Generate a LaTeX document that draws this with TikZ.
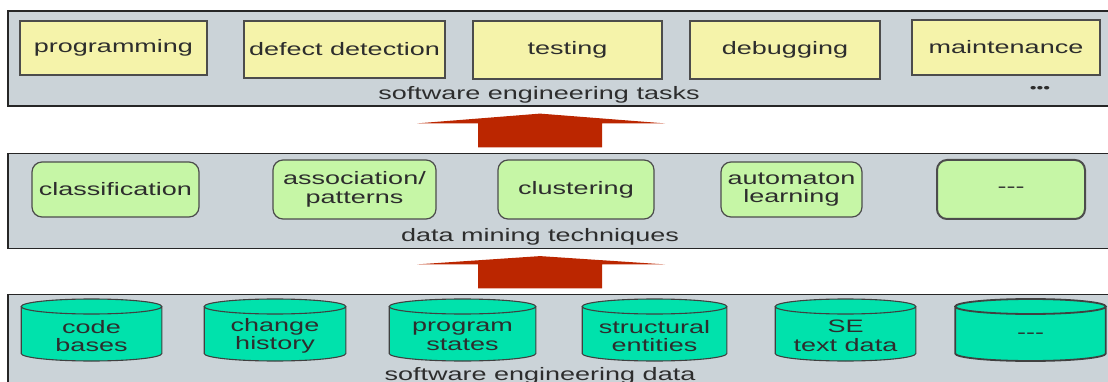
\documentclass[tikz,border=0pt]{standalone}
\usepackage{fontspec}
\setmainfont{Liberation Sans}[FakeStretch=1.5]
\usetikzlibrary{calc}

\definecolor{bandgray}{RGB}{203,211,216}
\definecolor{taskyellow}{RGB}{245,243,170}
\definecolor{minegreen}{RGB}{198,246,166}
\definecolor{storeteal}{RGB}{0,204,153}
\definecolor{storetop}{RGB}{0,226,172}
\definecolor{arrowred}{RGB}{187,38,0}
\definecolor{textgray}{RGB}{45,45,45}

\tikzset{
  lbl/.style={text=textgray, font=\fontsize{18}{18.5}\selectfont, inner sep=0pt, align=center},
  band/.style={draw=black!85, line width=1.2pt, fill=bandgray, inner sep=0pt,
    minimum width=1102pt, minimum height=95pt},
  task/.style={lbl, draw=black!70, line width=1.2pt, fill=taskyellow},
  technique/.style={lbl, draw=black!70, line width=1.2pt, fill=minegreen, rounded corners=10pt},
  % cylinder drawn inside the (invisible) node box, 62pt high from its top
  store/.style={lbl, minimum height=76pt, path picture={
    \path let \p1=(path picture bounding box.north west),
              \p2=(path picture bounding box.south east),
              \n1={(\x2-\x1)/2-1.2pt} in
      [fill=storeteal, draw=black!75, line width=#1]
      (\x1+1.2pt,\y1-8.5pt) -- (\x1+1.2pt,\y1-55.5pt)
      arc[start angle=180, end angle=360, x radius=\n1, y radius=7.5pt]
      -- (\x2-1.2pt,\y1-8.5pt)
      [fill=storetop] ($(\x1,\y1-8.5pt)!0.5!(\x2,\y1-8.5pt)$) ellipse[x radius=\n1, y radius=7.5pt];
  }},
  store/.default=1.1pt,
}

\begin{document}
\begin{tikzpicture}[x=1pt, y=-1pt]
\useasboundingbox (0,0) rectangle (1108,382);

% the three layers
\node[band] (tasks) at (559,58.5) {};
\node[band] (mining) at (559,201) {};
\node[band] (data) at (559,342) {};

\node[lbl] (taskslbl) at ([yshift=12pt]tasks.south -| 539,0) {software engineering tasks};
\node[lbl] (mininglbl) at ([yshift=12pt]mining.south -| 540,0) {data mining techniques};
\node[lbl] (datalbl) at ([yshift=14pt]data.south -| 540,0) {software engineering data};

% tasks
\node[task, minimum width=187pt, minimum height=54pt] (prog) at (113.5,48) {programming};
\node[task, minimum width=201pt, minimum height=57pt] (defect) at (344.5,49.5) {defect detection};
\node[task, minimum width=189pt, minimum height=58pt] (testing) at (567.5,50) {testing};
\node[task, minimum width=190pt, minimum height=58pt] (debug) at (785,50) {debugging};
\node[task, minimum width=188pt, minimum height=55pt] (maint) at (1006,47.5) {maintenance};
\node[lbl, font=\fontsize{13}{13}\selectfont] (moretasks) at (1040,89) {\textbullet\textbullet\textbullet};

% techniques
\node[technique, minimum width=167pt, minimum height=55pt] (classif) at (115.5,189.5) {classification};
\node[technique, minimum width=163pt, minimum height=59pt] (assoc) at (354.5,189.5) {association/\\patterns};
\node[technique, minimum width=156pt, minimum height=59pt] (cluster) at (576,189.5) {clustering};
\node[technique, minimum width=141pt, minimum height=55pt] (automaton) at (791.5,189.5) {automaton\\learning};
\node[technique, line width=2pt, minimum width=148pt, minimum height=59pt] (moretech) at (1011,189.5) {-{}-{}-};

% data sources
\node[store, minimum width=143pt] (code) at (91.5,336) {code\\bases};
\node[store, minimum width=144pt] (history) at (275,336) {change\\history};
\node[store, minimum width=149pt] (states) at (462.5,336) {program\\states};
\node[store, minimum width=147pt] (entities) at (654.5,336) {structural\\entities};
\node[store, minimum width=143pt] (text) at (845.5,336) {SE\\text data};
\node[store=1.8pt, minimum width=153pt] (moredata) at (1030.5,336) {-{}-{}-};

% block arrows between layers
\foreach \lo/\hi in {mining/tasks, data/mining}
  \fill[arrowred] ($(\lo.north)+(-81,-5.5)$) -- ++(0,-24) -- ++(-61,0)
    -- ($(\hi.south)+(-19,7)$) -- ($(\lo.north)+(106,-29.5)$)
    -- ++(-63,0) -- ++(0,24) -- cycle;
\end{tikzpicture}
\end{document}
